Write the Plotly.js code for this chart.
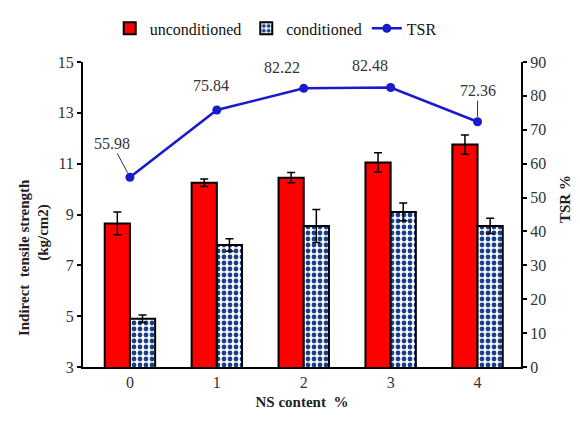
<!DOCTYPE html>
<html>
<head>
<meta charset="utf-8">
<script src="https://cdn.plot.ly/plotly-3.0.1.min.js"></script>
<style>
html,body{margin:0;padding:0;background:#fff}
#chart{width:580px;height:427px}
</style>
</head>
<body>
<div id="chart"></div>
<script>
const nsContent = [0, 1, 2, 3, 4];
const tickLabels = ['0', '1', '2', '3', '4'];
const leftTicks = [3, 5, 7, 9, 11, 13, 15];
const rightTicks = [0, 10, 20, 30, 40, 50, 60, 70, 80, 90];
const unconditioned = [8.65, 10.25, 10.45, 11.05, 11.75];
const unconditionedErr = [0.45, 0.15, 0.2, 0.38, 0.38];
const conditioned = [4.9, 7.8, 8.55, 9.1, 8.55];
const conditionedErr = [0.15, 0.25, 0.65, 0.35, 0.3];
const tsr = [55.98, 75.84, 82.22, 82.48, 72.36];
const tsrLabels = ['55.98', '75.84', '82.22', '82.48', '72.36'];

const serif = 'Liberation Serif';
const s = t => '<span style="font-family:Liberation Serif;font-weight:normal">' + t + '</span>';

const traces = [
  {
    type: 'bar', name: s('unconditioned'), x: nsContent, y: unconditioned,
    marker: {color: '#ff0000', line: {color: '#000', width: 2}},
    error_y: {type: 'data', array: unconditionedErr, visible: true, color: '#000', thickness: 1.5, width: 4}
  },
  {
    type: 'bar', name: s('conditioned'), x: nsContent, y: conditioned,
    marker: {color: '#ffffff', line: {color: '#000', width: 2},
      pattern: {shape: '.', fgcolor: '#1c3f8a', bgcolor: '#ffffff', size: 6, solidity: 0.5, fillmode: 'replace'}},
    error_y: {type: 'data', array: conditionedErr, visible: true, color: '#000', thickness: 1.5, width: 4}
  },
  {
    type: 'scatter', mode: 'lines+markers', name: s('TSR'), x: nsContent, y: tsr, yaxis: 'y2',
    line: {color: '#1a1acd', width: 2.5},
    marker: {color: '#1a1acd', size: 9, symbol: 'circle'}
  }
];

const offsets = [
  {arrow: true, ax: -18, ay: -34, xs: 0, ys: 0},
  {arrow: false, ax: 0, ay: 0, xs: -6, ys: 24},
  {arrow: false, ax: 0, ay: 0, xs: -22, ys: 21},
  {arrow: false, ax: 0, ay: 0, xs: -21, ys: 22},
  {arrow: true, ax: 0, ay: -31, xs: 0, ys: 0}
];

const annotations = tsr.map((v, i) => ({
  x: nsContent[i], y: v, xref: 'x', yref: 'y2', text: s(tsrLabels[i]),
  showarrow: offsets[i].arrow, ax: offsets[i].ax, ay: offsets[i].ay,
  arrowhead: 0, arrowwidth: 1, arrowcolor: '#333', standoff: 5,
  xshift: offsets[i].xs, yshift: offsets[i].ys,
  font: {family: serif, size: 16, color: '#333'}
}));

annotations.push(
  {xref: 'paper', yref: 'paper', x: -0.135, y: 0.36, xanchor: 'center', yanchor: 'middle',
   text: '<b>Indirect  tensile strength</b>', textangle: -90, showarrow: false,
   font: {family: serif, size: 15, color: '#222'}},
  {xref: 'paper', yref: 'paper', x: -0.089, y: 0.44, xanchor: 'center', yanchor: 'middle',
   text: '<b>(kg/cm2)</b>', textangle: -90, showarrow: false,
   font: {family: serif, size: 15, color: '#222'}},
  {xref: 'paper', yref: 'paper', x: 1.10, y: 0.55, xanchor: 'center', yanchor: 'middle',
   text: '<b>TSR %</b>', textangle: -90, showarrow: false,
   font: {family: serif, size: 15, color: '#222'}}
);

const layout = {
  width: 580, height: 427,
  margin: {l: 83, r: 59, t: 52, b: 60},
  paper_bgcolor: '#fff', plot_bgcolor: '#fff',
  font: {family: serif, size: 15, color: '#333'},
  barmode: 'group', bargap: 0.42, bargroupgap: 0,
  showlegend: true,
  legend: {orientation: 'h', x: 0.44, xanchor: 'center', y: 1.11, yanchor: 'middle',
    font: {family: serif, size: 16, color: '#111'}, itemwidth: 30, tracegroupgap: 0, bgcolor: 'rgba(0,0,0,0)'},
  xaxis: {
    range: [-0.54, 4.5], tickvals: nsContent, ticktext: tickLabels.map(s),
    showline: true, linecolor: '#000', linewidth: 2, ticks: '', showgrid: false, zeroline: false,
    tickfont: {family: serif, size: 16, color: '#333'},
    title: {text: '<b>NS content  %</b>', font: {family: serif, size: 15, color: '#222'}, standoff: 6}
  },
  yaxis: {
    range: [3, 15], tickvals: leftTicks, ticktext: leftTicks.map(v => s(String(v))),
    showline: true, linecolor: '#000', linewidth: 2, ticks: 'outside', ticklen: 4, tickwidth: 2, tickcolor: '#000',
    showgrid: false, zeroline: false,
    tickfont: {family: serif, size: 16, color: '#333'}
  },
  yaxis2: {
    range: [0, 90], tickvals: rightTicks, ticktext: rightTicks.map(v => s(String(v))), overlaying: 'y', side: 'right',
    showline: true, linecolor: '#000', linewidth: 2, ticks: 'outside', ticklen: 4, tickwidth: 2, tickcolor: '#000',
    showgrid: false, zeroline: false,
    tickfont: {family: serif, size: 16, color: '#333'}
  },
  annotations: annotations
};

Plotly.newPlot('chart', traces, layout, {displayModeBar: false});
</script>
</body>
</html>
